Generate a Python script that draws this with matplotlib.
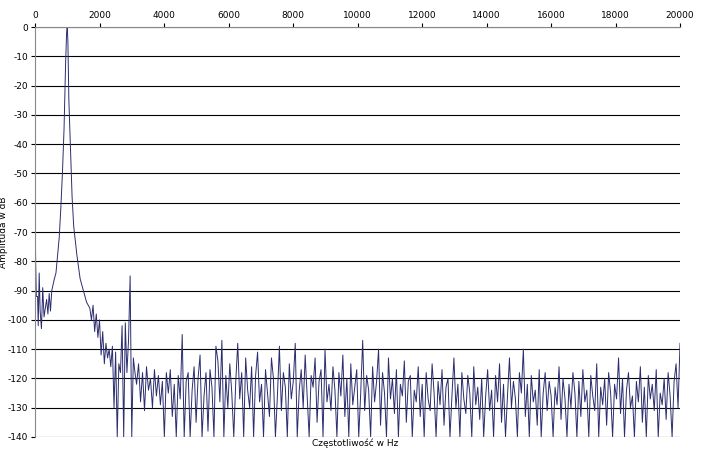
import matplotlib
matplotlib.use("Agg")
import matplotlib.pyplot as plt

plt.rcParams["axes.unicode_minus"] = False

low_freq = [0, 20, 40, 80, 100, 130, 160, 200, 240, 280, 320, 360, 400, 440, 480, 520, 560, 600, 650, 700, 750, 800, 850,
            900, 950, 980, 1000, 1020, 1050, 1100, 1150, 1200, 1300, 1400, 1500, 1600, 1700, 1750, 1800, 1850, 1900, 1950,
            2000, 2050, 2100, 2150, 2200, 2250, 2300, 2350, 2400, 2450, 2500, 2550, 2600, 2650, 2700, 2750, 2800, 2850,
            2900, 2950, 3000, 3050, 3100]
low_db = [-55, -80, -92, -92, -102, -84, -97, -103, -89, -99, -96, -93, -98, -91, -97, -90, -88, -86, -84, -78, -72, -62, -50,
          -35, -12, -2, 0, -5, -25, -42, -58, -68, -78, -86, -90, -94, -96, -100, -95, -104, -98, -106,
          -100, -112, -104, -115, -108, -113, -110, -116, -109, -130, -111, -140, -115, -118, -102, -140, -101, -118,
          -107, -85, -140, -113, -118]

noise_start = 3150
noise_step = 61.5
noise_db = [
    -122, -115, -128, -118, -131, -116, -124, -120, -130, -117, -126, -119, -129, -121, -140, -118, -125, -117, -133, -122,
    -140, -119, -127, -105, -140, -121, -118, -140, -124, -116, -135, -120, -112, -140, -126, -118, -138, -117, -123, -140,
    -109, -114, -128, -107, -140, -119, -130, -115, -125, -140, -121, -108, -127, -118, -140, -113, -124, -130, -116, -140,
    -119, -111, -128, -122, -140, -117, -125, -133, -113, -120, -140, -126, -109, -131, -118, -123, -140, -115, -127, -121,
    -108, -140, -124, -117, -130, -112, -126, -140, -119, -123, -113, -135, -121, -117, -140, -110, -128, -122, -131, -116,
    -124, -140, -118, -126, -112, -133, -120, -140, -115, -129, -123, -117, -140, -125, -107, -131, -119, -124, -140, -116,
    -128, -121, -110, -136, -118, -125, -140, -113, -127, -120, -132, -117, -140, -122, -126, -114, -135, -121, -119, -140,
    -124, -128, -116, -133, -122, -140, -118, -127, -131, -115, -125, -140, -121, -129, -117, -136, -123, -120, -140, -126,
    -113, -130, -122, -140, -118, -127, -132, -119, -125, -140, -116, -129, -123, -134, -120, -140, -126, -117, -131, -124,
    -140, -119, -128, -115, -135, -122, -140, -126, -113, -130, -121, -127, -140, -118, -125, -110, -133, -122, -140, -119,
    -128, -124, -136, -117, -140, -125, -118, -131, -121, -126, -140, -123, -129, -116, -134, -120, -127, -140, -122, -130,
    -118, -125, -140, -121, -133, -117, -128, -124, -140, -119, -126, -131, -115, -140, -123, -129, -120, -136, -118, -125,
    -140, -122, -127, -113, -132, -120, -140, -124, -118, -130, -126, -140, -121, -128, -116, -135, -123, -140, -119, -127,
    -122, -131, -117, -140, -125, -129, -120, -134, -118, -126, -140, -121, -115, -130, -108
]
noise_freq = [noise_start + i * noise_step for i in range(len(noise_db))]

freq = low_freq + noise_freq
db = low_db + noise_db

fig = plt.figure(figsize=(7.05, 4.51), dpi=100)
ax = fig.add_axes([35/705, 14/451, 645/705, 410/451])
ax.plot(freq, db, color="#2b2d6e", lw=0.7)
ax.set_xlim(0, 20000)
ax.set_ylim(-140, 0)
ax.set_yticks(range(-140, 1, 10))
ax.set_xticks(range(0, 20001, 2000))
ax.xaxis.tick_top()
ax.tick_params(labelsize=6.5, length=3, pad=2)
ax.grid(axis="y", color="black", lw=0.8)
for s in ["right", "bottom"]:
    ax.spines[s].set_visible(False)
ax.spines["top"].set_color("#888888")
ax.spines["left"].set_color("#888888")
ax.set_ylabel("Amplituda w dB", fontsize=6.5)
ax.yaxis.set_label_coords(-27/645, 0.5)
fig.text(355/705, 1 - 443/451, "Częstotliwość w Hz", fontsize=6.5, ha="center", va="center")
fig.savefig("out.png", dpi=100)
